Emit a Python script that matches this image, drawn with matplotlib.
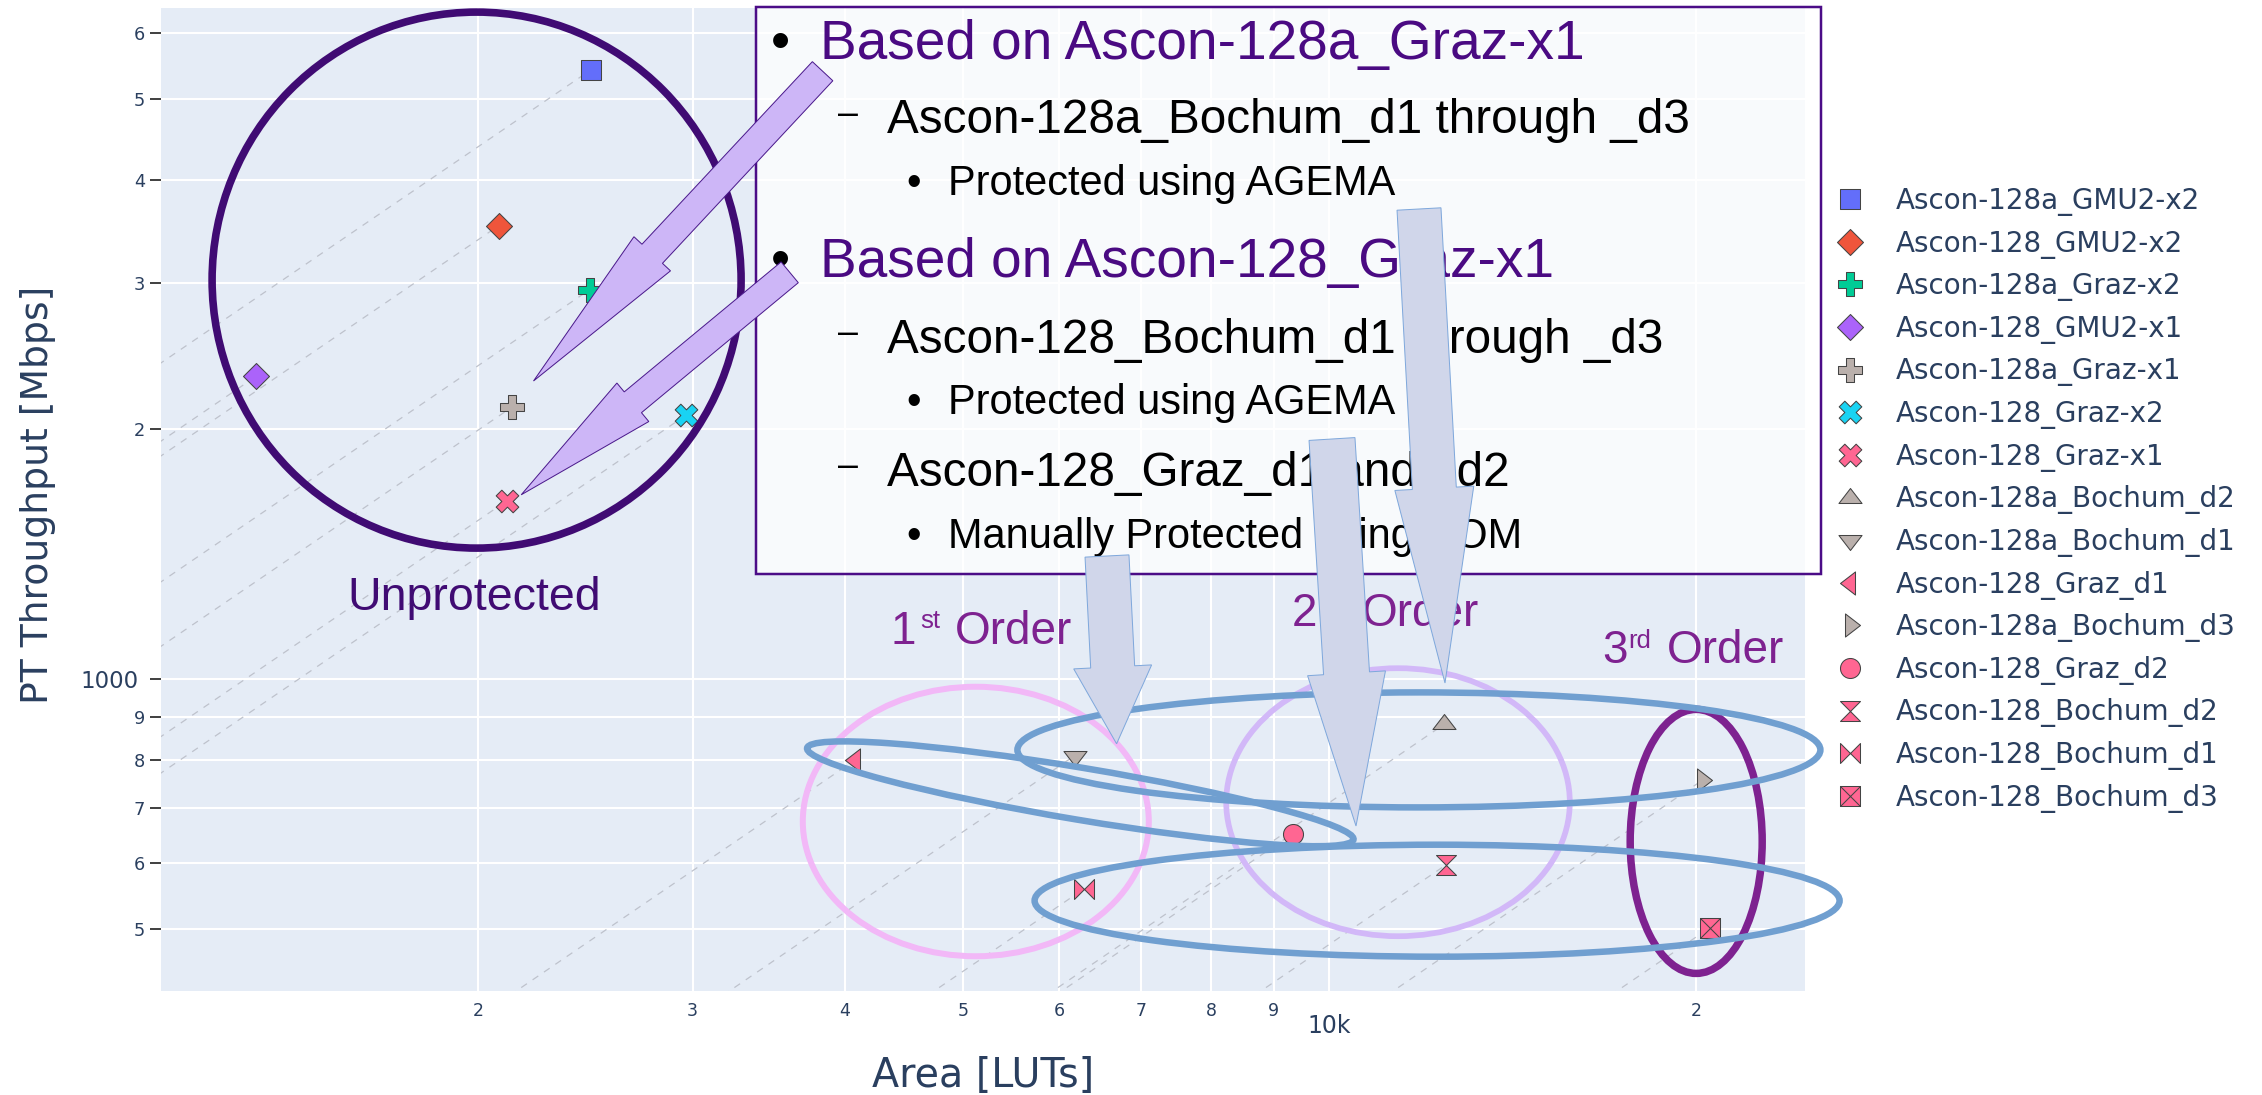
import numpy as np
import matplotlib
matplotlib.use("Agg")
import matplotlib.pyplot as plt
import matplotlib.transforms as mtransforms
from matplotlib.path import Path
from matplotlib.patches import Ellipse, Polygon, Rectangle

W, H, DPI = 2262, 1095, 100

# ---------------------------------------------------------------- data
designs = [
    "Ascon-128a_GMU2-x2", "Ascon-128_GMU2-x2", "Ascon-128a_Graz-x2", "Ascon-128_GMU2-x1",
    "Ascon-128a_Graz-x1", "Ascon-128_Graz-x2", "Ascon-128_Graz-x1", "Ascon-128a_Bochum_d2",
    "Ascon-128a_Bochum_d1", "Ascon-128_Graz_d1", "Ascon-128a_Bochum_d3", "Ascon-128_Graz_d2",
    "Ascon-128_Bochum_d2", "Ascon-128_Bochum_d1", "Ascon-128_Bochum_d3",
]
area_luts = [2475, 2079, 2469, 1315, 2134, 2963, 2113, 12430, 6177, 4082, 20250, 9333, 12475, 6286, 20530]
throughput_mbps = [5422, 3519, 2947, 2319, 2130, 2081, 1642, 883, 809, 800, 756, 652, 598, 559, 502]
symbols = ["square", "diamond", "cross", "diamond", "cross", "x", "x", "triangle-up",
           "triangle-down", "triangle-left", "triangle-right", "circle", "hourglass", "bowtie", "square-x"]
colors = ["#636EFA", "#EF553B", "#00CC96", "#AB63FA", "#BAB0AC", "#19D3F3", "#FF6692", "#BAB0AC",
          "#BAB0AC", "#FF6692", "#BAB0AC", "#FF6692", "#FF6692", "#FF6692", "#FF6692"]

x_major_ticks, x_major_labels = [10000], ["10k"]
x_minor_ticks = [2000, 3000, 4000, 5000, 6000, 7000, 8000, 9000, 20000]
x_minor_labels = ["2", "3", "4", "5", "6", "7", "8", "9", "2"]
y_major_ticks, y_major_labels = [1000], ["1000"]
y_minor_ticks = [500, 600, 700, 800, 900, 2000, 3000, 4000, 5000, 6000]
y_minor_labels = ["5", "6", "7", "8", "9", "2", "3", "4", "5", "6"]

x_range = (1098, 24570)
y_range = (421.7, 6438)

FONT_COLOR = "#2A3F5F"
BOX_FONT = "Liberation Sans"


# ---------------------------------------------------------------- marker shapes
def plotly_marker(kind, r=10.0):
    """Return (marker, markersize in points) for a plotly-like symbol of size 2r px."""
    M, L, C = Path.MOVETO, Path.LINETO, Path.CLOSEPOLY

    def poly(pts):
        pts = list(pts)
        return Path(pts + [pts[0]], [M] + [L] * (len(pts) - 1) + [C])

    t, h = 2 * r / np.sqrt(3), r / 2
    if kind == "circle":
        return "o", 2 * r * 72 / DPI
    if kind == "square":
        p = poly([(r, r), (-r, r), (-r, -r), (r, -r)])
    elif kind == "diamond":
        d = 1.3 * r
        p = poly([(d, 0), (0, d), (-d, 0), (0, -d)])
    elif kind == "cross":
        a, b = 0.4 * r, 1.2 * r
        p = poly([(b, a), (a, a), (a, b), (-a, b), (-a, a), (-b, a), (-b, -a), (-a, -a),
                  (-a, -b), (a, -b), (a, -a), (b, -a)])
    elif kind == "x":
        q = r * 0.8 / np.sqrt(2)
        p = poly([(0, q), (q, 2 * q), (2 * q, q), (q, 0), (2 * q, -q), (q, -2 * q), (0, -q),
                  (-q, -2 * q), (-2 * q, -q), (-q, 0), (-2 * q, q), (-q, 2 * q)])
    elif kind == "triangle-up":
        p = poly([(-t, -h), (t, -h), (0, r)])
    elif kind == "triangle-down":
        p = poly([(-t, h), (t, h), (0, -r)])
    elif kind == "triangle-left":
        p = poly([(h, t), (h, -t), (-r, 0)])
    elif kind == "triangle-right":
        p = poly([(-h, t), (-h, -t), (r, 0)])
    elif kind == "hourglass":
        p = poly([(r, r), (-r, r), (r, -r), (-r, -r)])
    elif kind == "bowtie":
        p = poly([(r, r), (r, -r), (-r, r), (-r, -r)])
    elif kind == "square-x":
        p = Path([(r, r), (-r, r), (-r, -r), (r, -r), (r, r), (r, r), (-r, -r), (-r, r), (r, -r)],
                 [M, L, L, L, C, M, L, M, L])
    ext = np.abs(p.vertices).max()
    return p, 2 * ext * 72 / DPI


# ---------------------------------------------------------------- figure / axes
fig = plt.figure(figsize=(W / DPI, H / DPI), dpi=DPI)
fig.patch.set_facecolor("white")
ax_left, ax_right, ax_top, ax_bottom = 161, 1804.7, 8, 990.6
ax = fig.add_axes([ax_left / W, 1 - ax_bottom / H, (ax_right - ax_left) / W, (ax_bottom - ax_top) / H])
ax.set_facecolor("#E5ECF6")
ax.set_xscale("log")
ax.set_yscale("log")
ax.set_xlim(*x_range)
ax.set_ylim(*y_range)
for s in ax.spines.values():
    s.set_visible(False)

ax.set_xticks(x_major_ticks, x_major_labels)
ax.set_xticks(x_minor_ticks, x_minor_labels, minor=True)
ax.set_yticks(y_major_ticks, y_major_labels)
ax.set_yticks(y_minor_ticks, y_minor_labels, minor=True)
ax.grid(True, which="both", color="white", linewidth=1.5)
ax.set_axisbelow(True)

ax.tick_params(axis="x", which="both", length=0, labelcolor=FONT_COLOR)
ax.tick_params(axis="x", which="major", pad=16.5, labelsize=17)
ax.tick_params(axis="x", which="minor", pad=8, labelsize=12.5)
ax.tick_params(axis="y", which="both", length=7.9, width=1.44, color="#444444", labelcolor=FONT_COLOR)
ax.tick_params(axis="y", which="major", pad=8.0, labelsize=16.5)
ax.tick_params(axis="y", which="minor", pad=3.6, labelsize=12.8)

ax.set_xlabel("Area [LUTs]", fontsize=28.5, color=FONT_COLOR)
ax.xaxis.set_label_coords(0.5, (ax_bottom - 1056) / (ax_bottom - ax_top))
ax.set_ylabel("PT Throughput [Mbps]", fontsize=27.2, color=FONT_COLOR)
ax.yaxis.set_label_coords((56 - ax_left) / (ax_right - ax_left), 0.505)

# iso-efficiency guides: constant throughput/area through every design
x_start = 900.0
for xa, yt in zip(area_luts, throughput_mbps):
    ax.plot([x_start, xa], [yt * x_start / xa, yt], color="#BEC2CC", linewidth=0.9,
            dashes=(5.5, 5.5), zorder=2)

handles = []
for name, xa, yt, sym, col in zip(designs, area_luts, throughput_mbps, symbols, colors):
    mk, ms = plotly_marker(sym)
    (ln,) = ax.plot([xa], [yt], linestyle="none", marker=mk, markersize=ms, markerfacecolor=col,
                    markeredgecolor="#444444", markeredgewidth=0.75, zorder=3, label=name)
    handles.append(ln)

fig.legend(handles=handles, labels=designs, loc="upper left",
           bbox_to_anchor=(1836 / W, 1 - 187 / H), bbox_transform=fig.transFigure,
           frameon=False, prop={"family": "DejaVu Sans", "size": 20}, labelcolor=FONT_COLOR,
           handlelength=1.0, handletextpad=1.155, labelspacing=0.49, borderpad=0,
           borderaxespad=0, numpoints=1)

# ---------------------------------------------------------------- annotations (pixel space, y downwards)
px = mtransforms.Affine2D().scale(1, -1).translate(0, H)
PT = 72 / DPI


def ring(cx, cy, w, h, color, lw_px, angle=0.0, z=2):
    fig.add_artist(Ellipse((cx, cy), w, h, angle=angle, fill=False, edgecolor=color,
                           linewidth=lw_px * PT, transform=px, zorder=z))


def block_arrow(tail, tip, shaft_w, head_w, head_len, face, edge, z=6):
    tail, tip = np.asarray(tail, float), np.asarray(tip, float)
    u = (tip - tail) / np.hypot(*(tip - tail))
    n = np.array([-u[1], u[0]])
    base = tip - u * head_len
    pts = [tail + n * shaft_w / 2, base + n * shaft_w / 2, base + n * head_w / 2, tip,
           base - n * head_w / 2, base - n * shaft_w / 2, tail - n * shaft_w / 2]
    fig.add_artist(Polygon(pts, closed=True, facecolor=face, edgecolor=edge,
                           linewidth=1.0 * PT, transform=px, zorder=z))


def label(x, y, s, size, color, ha="left", va="baseline", z=3, family=BOX_FONT):
    fig.text(x, y, s, fontsize=size, color=color, ha=ha, va=va, family=family,
             transform=px, zorder=z)


INDIGO = "#400B73"
ORDER_PURPLE = "#7E2290"
BLUE_RING = "#709FD0"

ring(476.6, 280.1, 529, 536, INDIGO, 7.6)
ring(975.8, 821.5, 346, 269.5, "#F2B8F7", 6.0)
ring(1398.0, 802.2, 343.6, 268, "#D2B8F8", 5.7)
ring(1696.2, 841.4, 132, 264, ORDER_PURPLE, 7.5)
ring(1080.3, 793.8, 554, 52, BLUE_RING, 6.5, angle=9.5)
ring(1418.9, 749.9, 803, 115, BLUE_RING, 6.5)
ring(1437.1, 900.7, 805, 112, BLUE_RING, 6.5)

label(474.5, 610.5, "Unprotected", 33.5, INDIGO, ha="center")

# order labels with superscript suffixes
for digit, sup, x_d, x_s, x_o, base in [("1", "st", 890.5, 920.0, 954.5, 643.5),
                                        ("2", "nd", 1291.5, 1318.0, 1362.0, 626.3),
                                        ("3", "rd", 1602.5, 1628.5, 1666.8, 663.4)]:
    label(x_d, base, digit, 33, ORDER_PURPLE)
    label(x_s, base - 15.6, sup, 18.5, ORDER_PURPLE)
    label(x_o, base, "Order", 33, ORDER_PURPLE)

# text panel
fig.add_artist(Rectangle((755.6, 7.4), 1821.2 - 755.6, 573.8 - 7.4, facecolor="white", alpha=0.75,
                         edgecolor="none", transform=px, zorder=4))
fig.add_artist(Rectangle((755.6, 7.4), 1821.2 - 755.6, 573.8 - 7.4, fill=False,
                         edgecolor="#4B0C87", linewidth=2.5 * PT, transform=px, zorder=4))

HEAD_PURPLE = "#4A0A82"
panel = [
    ("bullet", 780.0, 820.0, 59.2, "Based on Ascon-128a_Graz-x1", 39.6, HEAD_PURPLE),
    ("dash", 837.7, 886.8, 133.2, "Ascon-128a_Bochum_d1 through _d3", 34.3, "black"),
    ("bullet", 913.8, 948.3, 195.3, "Protected using AGEMA", 29.9, "black"),
    ("bullet", 780.0, 820.0, 277.5, "Based on Ascon-128_Graz-x1", 39.6, HEAD_PURPLE),
    ("dash", 837.7, 886.8, 352.6, "Ascon-128_Bochum_d1 through _d3", 34.3, "black"),
    ("bullet", 913.8, 948.3, 413.6, "Protected using AGEMA", 29.9, "black"),
    ("dash", 837.7, 886.8, 485.8, "Ascon-128_Graz_d1 and _d2", 34.3, "black"),
    ("bullet", 913.8, 948.4, 548.3, "Manually Protected using DOM", 29.9, "black"),
]
for kind, mx, tx, base, text, size, col in panel:
    if kind == "bullet":
        label(mx, base, "\u2022", size, "black", ha="center", z=5)
    else:
        label(mx, base - 0.4 * size * 1.389, "\u2013", size * 0.75, "black", va="center", z=5)
    label(tx, base, text, size, col, z=5)

# pointer arrows
LAV_FACE, LAV_EDGE = "#CDB6F7", "#4B1A8C"
block_arrow((822.6, 71.2), (533.5, 381.0), 28, 50, 174, LAV_FACE, LAV_EDGE)
block_arrow((789.7, 272.3), (521.2, 494.8), 27, 50, 145, LAV_FACE, LAV_EDGE)

BLUE_FACE, BLUE_EDGE = "#D0D6EA", "#7FA8DC"
block_arrow((1107.0, 556.0), (1116.6, 743.8), 44, 78, 77, BLUE_FACE, BLUE_EDGE)
block_arrow((1332.0, 439.0), (1356.0, 826.0), 46, 78, 153, BLUE_FACE, BLUE_EDGE)
block_arrow((1419.0, 209.0), (1445.0, 683.0), 44, 79, 195, BLUE_FACE, BLUE_EDGE)

fig.savefig("out.png", dpi=DPI, facecolor="white")
